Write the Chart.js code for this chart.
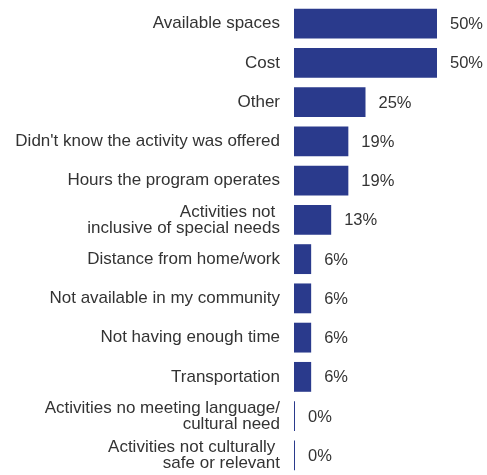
<!DOCTYPE html>
<html>
<head>
<meta charset="utf-8">
<script src="https://cdn.jsdelivr.net/npm/chart.js@4/dist/chart.umd.min.js"></script>
<style>
  html, body { margin: 0; padding: 0; background: #fff; }
  #wrap { width: 487px; height: 475px; position: relative; }
</style>
</head>
<body>
<div id="wrap"><canvas id="chart"></canvas></div>
<script>
  // categories (multi-line ones as arrays)
  const categories = [
    "Available spaces",
    "Cost",
    "Other",
    "Didn't know the activity was offered",
    "Hours the program operates",
    ["Activities not ", "inclusive of special needs"],
    "Distance from home/work",
    "Not available in my community",
    "Not having enough time",
    "Transportation",
    ["Activities no meeting language/", "cultural need"],
    ["Activities not culturally ", "safe or relevant"]
  ];
  const percentValues = [50, 50, 25, 19, 19, 13, 6, 6, 6, 6, 0, 0];
  const valueLabels = ["50%", "50%", "25%", "19%", "19%", "13%", "6%", "6%", "6%", "6%", "0%", "0%"];

  const BAR_COLOR = "#2A3A8C";
  const TEXT_COLOR = "#333333";
  const FONT = "'Liberation Sans', Arial, sans-serif";

  const valueLabelPlugin = {
    id: "valueLabels",
    afterDatasetsDraw(chart) {
      const ctx = chart.ctx;
      const meta = chart.getDatasetMeta(0);
      ctx.save();
      ctx.font = "16.5px " + FONT;
      ctx.fillStyle = TEXT_COLOR;
      ctx.textAlign = "left";
      ctx.textBaseline = "middle";
      meta.data.forEach((bar, i) => {
        const right = Math.max(bar.x, bar.base + 1);
        ctx.fillText(valueLabels[i], right + 13, bar.y + 1);
      });
      ctx.restore();
    }
  };

  new Chart(document.getElementById("chart"), {
    type: "bar",
    data: {
      labels: categories,
      datasets: [{
        data: percentValues,
        backgroundColor: BAR_COLOR,
        borderWidth: 0,
        barPercentage: 0.76,
        categoryPercentage: 1,
        minBarLength: 1
      }]
    },
    options: {
      indexAxis: "y",
      responsive: true,
      maintainAspectRatio: false,
      animation: false,
      layout: { padding: { top: 4, right: 50, bottom: 0, left: 0 } },
      plugins: {
        legend: { display: false },
        tooltip: { enabled: false }
      },
      scales: {
        x: {
          display: false,
          min: 0,
          max: 50
        },
        y: {
          grid: { display: false, drawTicks: false },
          border: { display: false },
          afterFit(scale) {
            scale.width = 294;
            // no extra room for the tall first/last labels
            scale.paddingTop = 0;
            scale.paddingBottom = 0;
          },
          ticks: {
            padding: 14,
            color: TEXT_COLOR,
            font: { family: FONT, size: 17, lineHeight: 0.94 }
          }
        }
      }
    },
    plugins: [valueLabelPlugin]
  });
</script>
</body>
</html>
